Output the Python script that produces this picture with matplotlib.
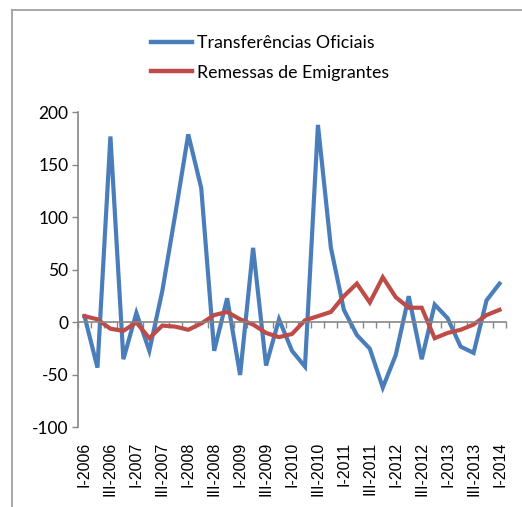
import numpy as np
import matplotlib.pyplot as plt
from matplotlib.lines import Line2D
import matplotlib.transforms as mtransforms

# quarters I-2006 .. I-2014
quarters = []
for yr in range(2006, 2015):
    for q in ["I", "II", "III", "IV"]:
        quarters.append(f"{q}-{yr}")
quarters = quarters[:33]

transferencias = [6, -43, 177, -35, 9, -27, 30, 103, 179, 128, -27, 23, -50, 71,
                  -41, 3, -27, -42, 188, 71, 12, -12, -25, -62, -31, 25, -35, 17,
                  4, -23, -29, 21, 37]
remessas = [6, 3, -6, -8, 0, -15, -3, -4, -7, -1, 7, 10, 3, -2, -10, -14, -11,
            2, 6, 10, 25, 37, 19, 43, 24, 14, 14, -15, -10, -7, -2, 7, 12]

yticks = [-100, -50, 0, 50, 100, 150, 200]

blue = "#4A7EBB"
red = "#BE4B48"
gray = "#868686"
font = ["Lato", "DejaVu Sans"]
plt.rcParams["font.family"] = font

fig = plt.figure(figsize=(5.22, 5.07), dpi=100)
ax = fig.add_axes([78 / 522, 1 - 427.5 / 507, (506 - 78) / 522, (427.5 - 112.3) / 507])

x = np.arange(len(quarters))
ax.plot(x, transferencias, color=blue, lw=3.0, solid_joinstyle="miter",
        label="Transferências Oficiais")
ax.plot(x, remessas, color=red, lw=3.0, solid_joinstyle="miter",
        label="Remessas de Emigrantes")

ax.set_xlim(-0.5, len(quarters) - 0.5)
ax.set_ylim(-100, 200)
ax.set_yticks(yticks)
ax.set_yticklabels([str(v) for v in yticks], fontsize=12.5)
ax.tick_params(axis="y", length=4, color=gray, width=1, pad=3)

for s in ["top", "right"]:
    ax.spines[s].set_visible(False)
ax.spines["left"].set_color(gray)
ax.spines["left"].set_linewidth(1.2)
ax.spines["bottom"].set_position(("data", 0))
ax.spines["bottom"].set_color(gray)
ax.spines["bottom"].set_linewidth(1.2)
ax.set_xticks(np.arange(-0.5, len(quarters), 1.0))
ax.set_xticklabels([])
ax.tick_params(axis="x", length=4, color=gray, width=1, direction="out")

trans = mtransforms.blended_transform_factory(ax.transData, ax.transAxes)
for i in range(0, len(quarters), 2):
    ax.text(i, -0.045, quarters[i], rotation=90, ha="center", va="top",
            fontsize=11.5, family=["Liberation Sans", "DejaVu Sans"], transform=trans)

handles = [Line2D([], [], color=blue, lw=3.2), Line2D([], [], color=red, lw=3.2)]
fig.legend(handles, ["Transferências Oficiais", "Remessas de Emigrantes"],
           loc="center", bbox_to_anchor=(270 / 522, 1 - 58 / 507), frameon=False,
           fontsize=12.8, handlelength=2.3, handletextpad=0.25, labelspacing=0.75)

# outer chart frame (partial, as in the source)
fig.add_artist(Line2D([12 / 522, 12 / 522], [0, 1 - 10 / 507], color="#A0A0A0", lw=1.3))
fig.add_artist(Line2D([12 / 522, 1], [1 - 10 / 507, 1 - 10 / 507], color="#A0A0A0", lw=1.3))

fig.savefig("out.png", dpi=100)
